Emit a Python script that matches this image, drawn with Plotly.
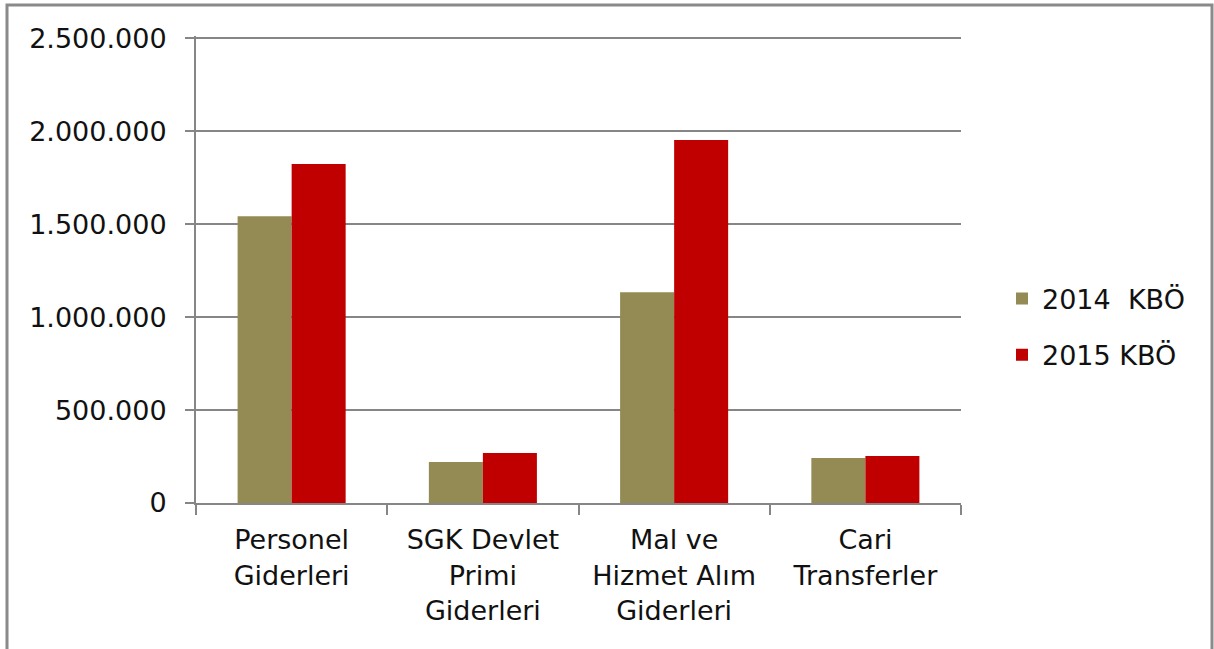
import plotly.graph_objects as go

categories = ["Personel<br>Giderleri", "SGK Devlet<br>Primi<br>Giderleri",
              "Mal ve<br>Hizmet Alım<br>Giderleri", "Cari<br>Transferler"]
series_2014 = [1543000, 220000, 1134000, 242000]
series_2015 = [1823000, 269000, 1952000, 253000]
names = ["2014\u00a0 KBÖ", "2015 KBÖ"]
y_ticks = [0, 500000, 1000000, 1500000, 2000000, 2500000]
y_max = 2512000

FONT = "DejaVu Sans"
FS = 27
W, H = 1214, 649
L, R, T, B = 196, 1214 - 961, 36, 649 - 503
pw, ph = W - L - R, H - T - B

def px_x(p):
    return (p - L) / pw

def px_y(p):
    return (H - B - p) / ph

fig = go.Figure()
fig.add_trace(go.Bar(x=categories, y=series_2014, name=names[0],
                     marker=dict(color="#948A54", line=dict(width=0)),
                     legendgroup="a"))
fig.add_trace(go.Bar(x=categories, y=series_2015, name=names[1],
                     marker=dict(color="#C00000", line=dict(width=0)),
                     legendgroup="b"))

fig.update_layout(
    width=W, height=H,
    margin=dict(l=L, r=R, t=T, b=B, autoexpand=False),
    paper_bgcolor="white", plot_bgcolor="white",
    separators=",.",
    barmode="group", bargap=0.435, bargroupgap=0,
    font=dict(family=FONT, size=FS, color="#111111"),
    legend=dict(x=px_x(1002), y=px_y(327), xanchor="left", yanchor="middle",
                font=dict(size=FS), traceorder="grouped", tracegroupgap=18,
                itemwidth=30, bgcolor="rgba(0,0,0,0)"),
    xaxis=dict(showline=True, linecolor="#868686", linewidth=2,
               ticks="outside", tickson="boundaries", ticklen=10, tickwidth=2,
               tickcolor="#868686", showgrid=False,
               tickfont=dict(size=FS), ticklabelstandoff=12),
    yaxis=dict(range=[0, y_max], tickvals=y_ticks, tickformat=",d",
               showline=True, linecolor="#868686", linewidth=2,
               ticks="outside", ticklen=9, tickwidth=2, tickcolor="#868686",
               showgrid=True, gridcolor="#868686", gridwidth=2,
               zeroline=False, tickfont=dict(size=FS), ticklabelstandoff=13),
    shapes=[dict(type="rect", xref="paper", yref="paper",
                 x0=px_x(7), x1=px_x(1212), y0=px_y(700), y1=px_y(5),
                 line=dict(color="#8a8a8a", width=3), layer="above")],
)

fig.write_html("out.html", config={"displayModeBar": False},
               post_script="document.body.style.margin='0';")
